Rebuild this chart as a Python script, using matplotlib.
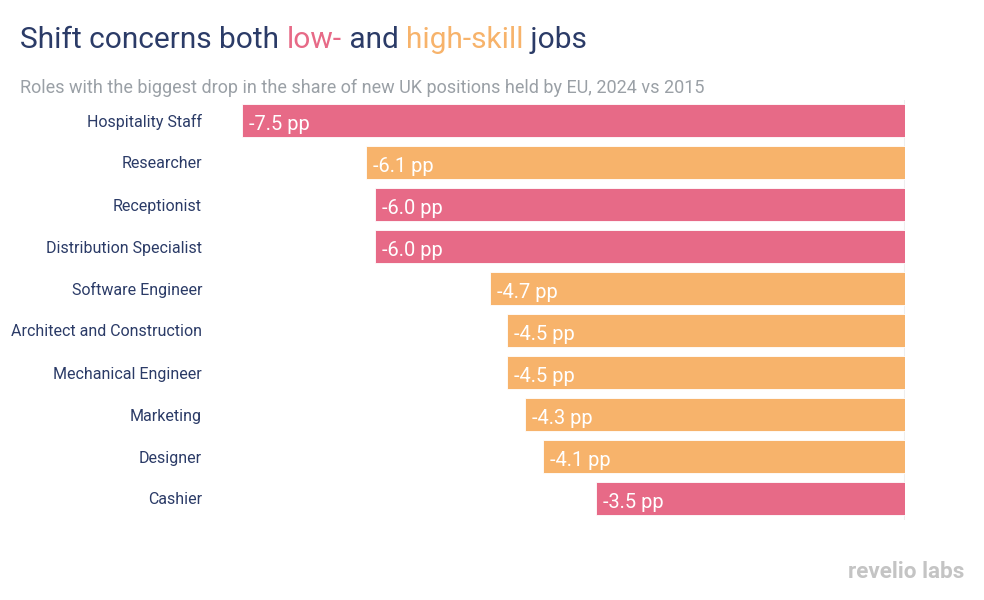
import matplotlib
matplotlib.use("Agg")
import matplotlib.pyplot as plt

roles = ["Hospitality Staff", "Researcher", "Receptionist", "Distribution Specialist",
         "Software Engineer", "Architect and Construction", "Mechanical Engineer",
         "Marketing", "Designer", "Cashier"]
values = [-7.5, -6.1, -6.0, -6.0, -4.7, -4.5, -4.5, -4.3, -4.1, -3.5]
skill = ["low", "high", "low", "low", "high", "high", "high", "high", "high", "low"]

PINK = "#e76a87"
ORANGE = "#f7b36b"
NAVY = "#2b3b67"
GREY = "#9aa0a6"
colors = {"low": PINK, "high": ORANGE}

plt.rcParams['font.family'] = ['Roboto', 'DejaVu Sans']

W, H = 984, 600
fig = plt.figure(figsize=(W / 100, H / 100), dpi=100)
ax = fig.add_axes([242 / W, 1 - 519.5 / H, (905 - 242) / W, (519.5 - 99.5) / H])

ypos = list(range(len(roles)))
ax.barh(ypos, values, height=0.79, color=[colors[s] for s in skill],
        edgecolor="white", linewidth=0.6)
ax.set_xlim(-7.5, 0)
ax.set_ylim(len(roles) - 0.5, -0.5)
ax.axvline(0, color="#eeeeee", lw=1.5, zorder=0)
for s in ax.spines.values():
    s.set_visible(False)
ax.set_xticks([])
ax.set_yticks(ypos)
ax.set_yticklabels(roles, fontsize=11.5, color=NAVY)
ax.tick_params(axis="y", length=0, pad=28.8)

for y, v in zip(ypos, values):
    ax.annotate(f"{v:.1f} pp", xy=(v, y), xytext=(7, -2), textcoords="offset pixels",
                ha="left", va="center_baseline", color="white", fontsize=14.4)

# Title with coloured words
parts = [("Shift concerns both ", NAVY), ("low-", PINK), (" and ", NAVY),
         ("high-skill", ORANGE), (" jobs", NAVY)]
fig.canvas.draw()
renderer = fig.canvas.get_renderer()
x = 20
for txt, c in parts:
    t = fig.text(x / W, 1 - 48 / H, txt, fontsize=21.5, color=c, ha="left",
                 va="baseline")
    bb = t.get_window_extent(renderer=renderer)
    x += bb.width

fig.text(20 / W, 1 - 93 / H,
         "Roles with the biggest drop in the share of new UK positions held by EU, 2024 vs 2015",
         fontsize=13, color=GREY, ha="left", va="baseline")

fig.text(964 / W, 1 - 578 / H, "revelio labs", fontsize=16.2, fontweight="bold",
         color="#c4c4c4", ha="right", va="baseline")

fig.savefig("out.png", dpi=100, facecolor="white")
